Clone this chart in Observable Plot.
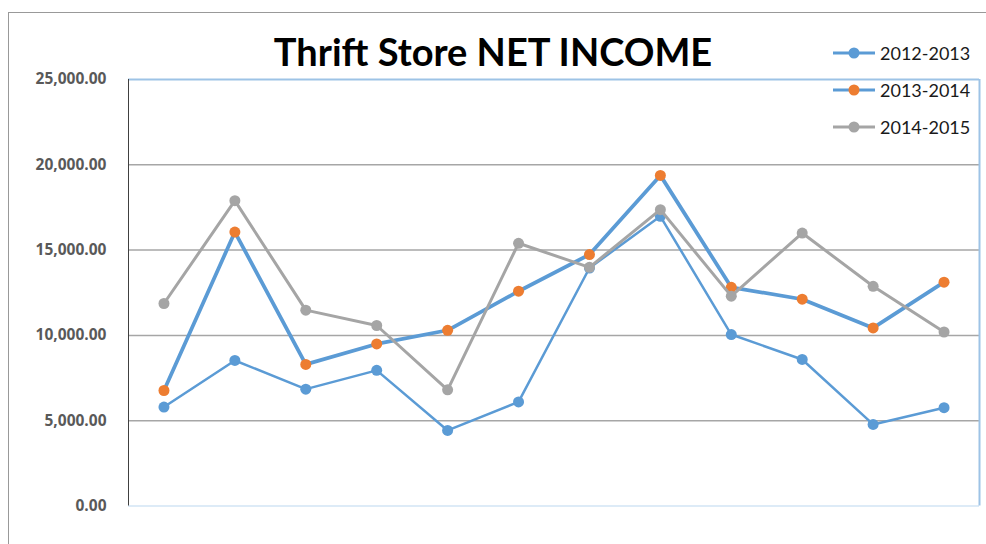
<!DOCTYPE html>
<html>
<head>
<meta charset="utf-8">
<script src="https://cdn.jsdelivr.net/npm/d3@7"></script>
<script src="https://cdn.jsdelivr.net/npm/@observablehq/plot@0.6"></script>
<style>
  html, body { margin: 0; padding: 0; background: #fff; }
  #wrap { position: relative; width: 986px; height: 544px; overflow: hidden; }
  #chart { position: absolute; left: 0; top: 0; }
  .border-left { position: absolute; left: 8px; top: 12px; width: 1px; height: 532px; background: #999; }
  .border-top { position: absolute; left: 8px; top: 12px; width: 978px; height: 1px; background: #999; }
  #title { position: absolute; left: 0; width: 986px; top: 28px; text-align: center; padding-left: 0; box-sizing: border-box;
           font-family: Lato, "Open Sans", sans-serif; font-weight: 700; font-size: 38px; color: #000; white-space: nowrap; }
  #legend { position: absolute; left: 831px; top: 34px; font-family: Lato, "Open Sans", sans-serif; font-size: 18px; color: #1a1a1a; }
  .item { display: flex; align-items: center; height: 37px; }
  .item svg { margin-right: 3px; }
</style>
</head>
<body>
<div id="wrap">
  <div class="border-left"></div>
  <div class="border-top"></div>
  <div id="chart"></div>
  <div id="title">Thrift Store NET INCOME</div>
  <div id="legend"></div>
</div>
<script>
const months = [1, 2, 3, 4, 5, 6, 7, 8, 9, 10, 11, 12];
const seriesNames = ["2012-2013", "2013-2014", "2014-2015"];
const s2012 = [5800, 8530, 6850, 7950, 4430, 6100, 13950, 16980, 10050, 8590, 4780, 5760];
const s2013 = [6770, 16060, 8300, 9500, 10300, 12590, 14740, 19380, 12820, 12120, 10440, 13120];
const s2014 = [11870, 17900, 11480, 10580, 6810, 15400, 13990, 17370, 12300, 16000, 12880, 10200];
const yTicks = [0, 5000, 10000, 15000, 20000, 25000];
const colors = ["#5B9BD5", "#5B9BD5", "#A5A5A5"];
const markerColors = ["#5B9BD5", "#ED7D31", "#A5A5A5"];
const lineWidths = [2.5, 3.75, 3];

const allSeries = [s2012, s2013, s2014];
const rows = allSeries.map((vals, si) => months.map((m, i) => ({month: m, value: vals[i], series: seriesNames[si]})));

const marks = [
  Plot.ruleY(yTicks.slice(1, -1), {stroke: "#A6A6A6", strokeWidth: 1.5}),
  Plot.ruleY([25000], {stroke: "#9DC3E6", strokeWidth: 2}),
  Plot.ruleY([0], {stroke: "#DDEBF7", strokeWidth: 2}),
  Plot.ruleX([12.5], {stroke: "#9DC3E6", strokeWidth: 2}),
  Plot.ruleX([0.5], {stroke: "#404040", strokeWidth: 1}),
  Plot.axisY({ticks: yTicks, tickFormat: d3.format(",.2f"), tickSize: 0, tickPadding: 22,
    fontSize: 15.5, fontWeight: "bold", fill: "#595959", label: null, fontFamily: "'Open Sans', sans-serif"})
];
rows.forEach((data, si) => {
  marks.push(Plot.line(data, {x: "month", y: "value", stroke: colors[si], strokeWidth: lineWidths[si], strokeLinejoin: "round"}));
  marks.push(Plot.dot(data, {x: "month", y: "value", r: 5.5, fill: markerColors[si], stroke: "none"}));
});

const chart = Plot.plot({
  width: 986,
  height: 544,
  marginLeft: 128,
  marginRight: 7,
  marginTop: 79,
  marginBottom: 38.5,
  x: {domain: [0.5, 12.5], axis: null},
  y: {domain: [0, 25000], axis: null},
  style: {background: "transparent", overflow: "visible"},
  marks
});
document.getElementById("chart").appendChild(chart);

const legend = document.getElementById("legend");
seriesNames.forEach((name, si) => {
  const item = document.createElement("div");
  item.className = "item";
  item.innerHTML = `<svg width="46" height="14"><line x1="2" y1="7" x2="44" y2="7" stroke="${colors[si]}" stroke-width="3"/><circle cx="23" cy="7" r="5.5" fill="${markerColors[si]}"/></svg><span>${name}</span>`;
  legend.appendChild(item);
});
</script>
</body>
</html>
